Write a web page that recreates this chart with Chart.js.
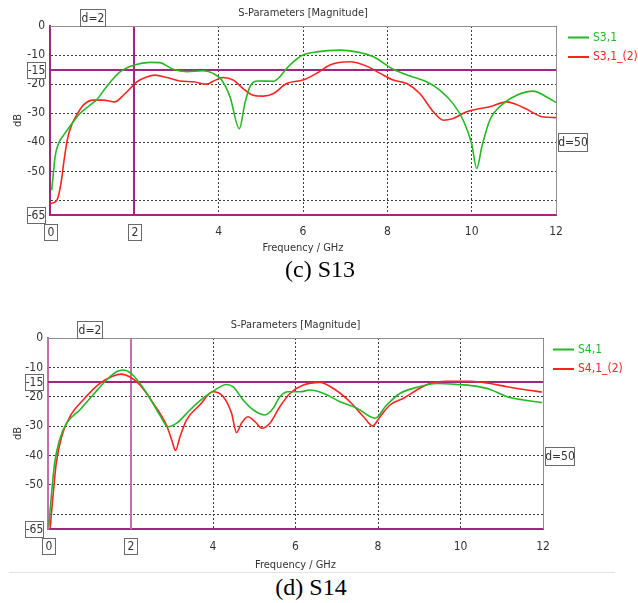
<!DOCTYPE html>
<html>
<head>
<meta charset="utf-8">
<script src="https://cdn.jsdelivr.net/npm/chart.js@4.4.0/dist/chart.umd.min.js"></script>
<style>
body { margin: 0; background: #fff; width: 638px; height: 603px; position: relative; overflow: hidden; }
canvas { position: absolute; left: 0; }
#c1 { top: 0; }
#c2 { top: 312px; }
.cap { position: absolute; width: 638px; text-align: center; font-family: 'Liberation Serif', 'Times New Roman', serif; font-size: 24px; color: #000; line-height: 26px; }
#cap1 { top: 256px; left: 1px; }
#cap2 { top: 574px; left: -8px; }
#sep { position: absolute; top: 572px; left: 9px; width: 606px; height: 1px; background: #e2e2e2; }
</style>
</head>
<body>
<canvas id="c1" width="638" height="258"></canvas>
<div class="cap" id="cap1">(c) S13</div>
<canvas id="c2" width="638" height="260"></canvas>
<div id="sep"></div>
<div class="cap" id="cap2">(d) S14</div>
<script>
// tick labels
var freqTicks = [0, 2, 4, 6, 8, 10, 12];
var dbTicks = [-65, -60, -50, -40, -30, -20, -10, 0];

// (c) S13 - green trace
var s31Freq = [0.04, 0.08, 0.12, 0.2, 0.32, 0.55, 0.71, 0.95, 1.1, 1.34, 1.66, 2.0, 2.37, 2.6, 2.92, 3.24, 3.64, 3.87, 4.07, 4.27, 4.49, 4.62, 4.74, 4.94, 5.3, 5.45, 5.61, 5.8, 6.0, 6.32, 6.88, 7.27, 7.67, 8.14, 8.54, 8.93, 9.25, 9.56, 9.8, 10.0, 10.12, 10.24, 10.43, 10.75, 11.07, 11.46, 11.78, 12.0];
var s31 = [-56.5, -50.7, -45, -40.5, -37.6, -33, -30.1, -27.2, -25.5, -20.9, -15.8, -13.4, -12.5, -12.6, -14.9, -15.7, -15.4, -16.3, -18.6, -24.4, -35.3, -26.7, -20.9, -18.9, -19, -17.5, -14.6, -12, -10, -8.9, -8.3, -8.9, -10.6, -14.9, -17.2, -19.2, -22.1, -26.7, -32.4, -40.5, -49, -41.6, -32.4, -26.7, -23.8, -22.4, -24.4, -26.3];
// (c) S13 - red trace
var s31bFreq = [0, 0.16, 0.25, 0.35, 0.42, 0.51, 0.63, 0.79, 1.03, 1.26, 1.54, 1.7, 1.9, 2.06, 2.29, 2.49, 2.77, 3.08, 3.4, 3.72, 3.87, 4.11, 4.35, 4.58, 4.82, 5.06, 5.3, 5.61, 5.89, 6.0, 6.32, 6.64, 7.11, 7.51, 7.83, 8.14, 8.46, 8.77, 9.09, 9.33, 9.56, 9.88, 10.2, 10.43, 10.83, 11.22, 11.7, 12.0];
var s31b = [-61.1, -60, -55, -44.5, -38.5, -34.1, -30.7, -27.2, -25.5, -25.5, -26.1, -24.4, -21.5, -19.2, -17.5, -16.9, -17.7, -18.9, -19.2, -20, -19, -17.7, -18.6, -21.5, -23.8, -24.1, -23.2, -19.8, -18.9, -18.6, -16.3, -13.4, -12.3, -13.8, -16.3, -18.6, -19.8, -23.2, -29.5, -32.4, -31.8, -29.5, -28.4, -27.8, -26.1, -28.0, -31.3, -31.5];

// (d) S14 - green trace
var s41Freq = [0.02, 0.08, 0.16, 0.28, 0.45, 0.77, 1.09, 1.42, 1.66, 1.82, 2.02, 2.23, 2.47, 2.71, 2.91, 3.12, 3.44, 3.76, 4.0, 4.33, 4.49, 4.73, 4.98, 5.26, 5.46, 5.62, 5.83, 6.11, 6.35, 6.67, 7.08, 7.49, 7.93, 8.21, 8.54, 8.94, 9.43, 9.91, 10.32, 10.72, 11.13, 11.53, 11.98];
var s41 = [-64, -53.9, -42.6, -34.7, -29, -24.5, -19.4, -14.3, -11.5, -10.9, -12.1, -15.5, -20.5, -26.2, -30.2, -29, -24.5, -20.5, -18.1, -15.8, -16.6, -21.1, -24.5, -26.2, -23.9, -20, -18.3, -18.3, -17.7, -18.8, -21.7, -23.9, -27.3, -22.8, -18.8, -16.8, -15.5, -15.8, -16.3, -17.5, -20, -21.1, -22];
// (d) S14 - red trace
var s41bFreq = [0.05, 0.12, 0.2, 0.33, 0.53, 0.85, 1.25, 1.58, 1.78, 1.98, 2.23, 2.55, 2.87, 3.0, 3.09, 3.2, 3.36, 3.68, 4.0, 4.25, 4.45, 4.57, 4.69, 4.85, 5.02, 5.18, 5.38, 5.62, 5.87, 6.19, 6.59, 6.92, 7.32, 7.65, 7.87, 8.05, 8.29, 8.62, 8.94, 9.26, 9.67, 10.24, 10.72, 11.13, 11.61, 11.98];
var s41b = [-65, -53.9, -42.6, -33.6, -26.8, -21.1, -15.5, -12.9, -12.3, -13.2, -16, -22.2, -29.6, -34.7, -38.3, -33.6, -27.9, -22.8, -18.3, -20, -25.6, -32.2, -29, -26.8, -28.5, -30.7, -29, -23.4, -18.8, -16, -15.1, -17.2, -21.7, -26.8, -29.9, -26.8, -22.8, -20.5, -17.7, -15.5, -14.7, -14.7, -15.5, -16.6, -17.7, -18.4];

var GREEN = '#25b825';
var RED = '#ff2222';
var MAGENTA = '#a3267d';
var FONT = "'Liberation Sans Narrow', 'DejaVu Sans Condensed', 'Liberation Sans', sans-serif";

function pts(xs, ys) {
	return xs.map(function(x, i) { return {x: x, y: ys[i]}; });
}

function box(ctx, text, cx, cy, w, h) {
	var l = Math.round(cx - w / 2) + 0.5, t = Math.round(cy - h / 2) + 0.5;
	ctx.fillStyle = '#fff';
	ctx.fillRect(l, t, w, h);
	ctx.strokeStyle = '#6a6a6a';
	ctx.lineWidth = 1;
	ctx.strokeRect(l, t, w, h);
	ctx.fillStyle = '#333';
	ctx.textAlign = 'center';
	ctx.textBaseline = 'middle';
	ctx.fillText(text, l + w / 2, t + h / 2 + 0.5);
}

// markers, frame, boxed labels, title, legend
var decor = {
	id: 'decor',
	beforeDatasetsDraw: function(chart, args, o) {
		var ctx = chart.ctx, a = chart.chartArea, x = chart.scales.x, y = chart.scales.y;
		ctx.save();
		ctx.lineWidth = 2;
		ctx.strokeStyle = o.vColor;
		var px = Math.round(x.getPixelForValue(2));
		ctx.beginPath(); ctx.moveTo(px, a.top); ctx.lineTo(px, a.bottom); ctx.stroke();
		ctx.strokeStyle = MAGENTA;
		var py = Math.round(y.getPixelForValue(-15));
		ctx.beginPath(); ctx.moveTo(a.left, py); ctx.lineTo(a.right, py); ctx.stroke();
		ctx.restore();
	},
	afterDraw: function(chart, args, o) {
		var ctx = chart.ctx, a = chart.chartArea, x = chart.scales.x, y = chart.scales.y;
		ctx.save();
		// grey frame top / right
		ctx.strokeStyle = '#8e8e8e';
		ctx.lineWidth = 1;
		ctx.beginPath();
		ctx.moveTo(a.left, Math.round(a.top) + 0.5);
		ctx.lineTo(Math.round(a.right) + 0.5, Math.round(a.top) + 0.5);
		ctx.lineTo(Math.round(a.right) + 0.5, a.bottom);
		ctx.stroke();

		ctx.font = '12px ' + FONT;
		box(ctx, '-15', a.left - 14, y.getPixelForValue(-15), 18, 16);
		box(ctx, '-65', a.left - 14, y.getPixelForValue(-65), 18, 16);
		box(ctx, '0', x.getPixelForValue(0), a.bottom + 17, 13, 16);
		box(ctx, '2', x.getPixelForValue(2), a.bottom + 17, 13, 16);
		box(ctx, 'd=2', x.getPixelForValue(1), a.top - 9, 25, 17);
		box(ctx, 'd=50', a.right + 16.5, y.getPixelForValue(-40), 29, 18);

		// title
		ctx.font = '11px ' + FONT;
		ctx.fillStyle = '#333';
		ctx.textAlign = 'center';
		ctx.textBaseline = 'middle';
		ctx.fillText('S-Parameters [Magnitude]', (a.left + a.right) / 2, a.top - 13);

		// legend
		ctx.font = '12px ' + FONT;
		ctx.textAlign = 'left';
		chart.data.datasets.forEach(function(ds, i) {
			var ly = a.top + 11.5 + i * 19.5;
			ctx.strokeStyle = ds.borderColor;
			ctx.lineWidth = 2;
			ctx.beginPath();
			ctx.moveTo(a.right + o.legendX, ly);
			ctx.lineTo(a.right + o.legendX + 21, ly);
			ctx.stroke();
			ctx.fillStyle = ds.borderColor;
			ctx.fillText(ds.label, a.right + o.legendX + 25, ly);
		});
		ctx.restore();
	}
};

function makeChart(id, d) {
	return new Chart(document.getElementById(id), {
		type: 'line',
		data: {
			datasets: [
				{label: d.labels[0], data: pts(d.gf, d.g), borderColor: GREEN},
				{label: d.labels[1], data: pts(d.rf, d.r), borderColor: RED}
			]
		},
		plugins: [decor],
		options: {
			responsive: false,
			animation: false,
			layout: {padding: {left: 0, right: d.right, top: d.top, bottom: 0}},
			elements: {
				point: {radius: 0},
				line: {borderWidth: 1.6, tension: 0.4, cubicInterpolationMode: 'monotone', fill: false}
			},
			plugins: {
				legend: {display: false},
				tooltip: {enabled: false},
				decor: {vColor: d.vColor, legendX: d.legendX}
			},
			scales: {
				x: {
					type: 'linear', min: 0, max: 12,
					afterBuildTicks: function(s) { s.ticks = freqTicks.map(function(v) { return {value: v}; }); },
					afterFit: function(s) { s.height = 43; },
					grid: {color: '#3c3c3c', lineWidth: 1, drawTicks: false},
					border: {display: true, color: MAGENTA, width: 2, dash: [2, 2]},
					ticks: {
						padding: d.xPad, color: '#333', maxRotation: 0, font: {family: FONT, size: 12},
						callback: function(v) { return (v === 0 || v === 2) ? '' : v; }
					},
					title: {display: true, text: 'Frequency / GHz', color: '#333', font: {family: FONT, size: 11}, padding: {top: 0, bottom: d.titlePad}}
				},
				y: {
					type: 'linear', min: -65, max: 0,
					afterBuildTicks: function(s) { s.ticks = dbTicks.map(function(v) { return {value: v}; }); },
					afterFit: function(s) { s.width = d.left; },
					grid: {color: '#3c3c3c', lineWidth: 1, drawTicks: false},
					border: {display: true, color: d.vColor, width: 2, dash: [2, 2]},
					ticks: {
						padding: 5, color: '#333', font: {family: FONT, size: 12},
						callback: function(v) { return (v === -60 || v === -65) ? '' : v; }
					},
					title: {display: true, text: 'dB', color: '#333', font: {family: FONT, size: 11}, padding: {top: 11.4, bottom: 0}}
				}
			}
		}
	});
}

makeChart('c1', {
	labels: ['S3,1', 'S3,1_(2)'], gf: s31Freq, g: s31, rf: s31bFreq, r: s31b,
	left: 50, right: 82, top: 26, xPad: 10, titlePad: 3.4, vColor: MAGENTA, legendX: 12
});
makeChart('c2', {
	labels: ['S4,1', 'S4,1_(2)'], gf: s41Freq, g: s41, rf: s41bFreq, r: s41b,
	left: 48, right: 95, top: 26, xPad: 10.5, titlePad: 0.4, vColor: '#c36fae', legendX: 10
});
</script>
</body>
</html>
